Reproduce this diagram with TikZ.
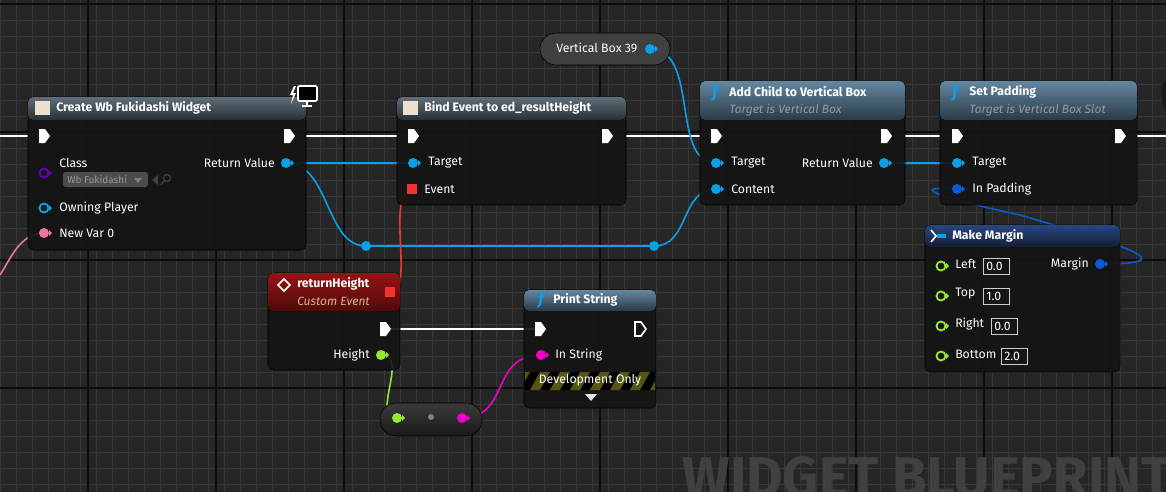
\documentclass[tikz,border=0pt]{standalone}
\usepackage{fontspec}
\setmainfont{Fira Sans}
\begin{document}
\begin{tikzpicture}[x=0.75pt,y=-0.75pt,font=\fontsize{9.2}{10}\selectfont,
  body/.style={fill=black!92!white,fill opacity=0.92,draw=black,rounded corners=4pt},
  fhead/.style={top color=hdtop,bottom color=hdbot,draw=none},
  txt/.style={text=white,inner sep=0pt,anchor=west},
  hd/.style={txt,font=\fontsize{9.2}{10}\selectfont\bfseries},
  sub/.style={text=gray!80!white,inner sep=0pt,anchor=west,font=\fontsize{9}{10}\selectfont\itshape},
  wire/.style={line width=1.2pt},
  bluew/.style={wire,draw=pinblue},
  execw/.style={line width=2pt,white}]
\definecolor{pinblue}{RGB}{10,160,230}
\definecolor{pindblue}{RGB}{10,90,210}
\definecolor{pingreen}{RGB}{150,230,50}
\definecolor{pinmag}{RGB}{240,0,200}
\definecolor{pinpink}{RGB}{230,120,160}
\definecolor{pinred}{RGB}{240,50,50}
\definecolor{pinpurple}{RGB}{100,0,180}
\definecolor{hdtop}{RGB}{100,135,160}
\definecolor{hdbot}{RGB}{40,58,72}
\definecolor{gtop}{RGB}{95,110,120}
\definecolor{gbot}{RGB}{40,48,55}
\definecolor{mtop}{RGB}{40,70,130}
\definecolor{mbot}{RGB}{20,30,50}
\definecolor{rtop}{RGB}{150,20,20}
\definecolor{rbot}{RGB}{80,10,10}
\definecolor{olive}{RGB}{85,85,20}
\newcommand\execpin[3][white]{\fill[#1] (#2-5,#3-7)--(#2+1,#3-7)--(#2+6,#3)--(#2+1,#3+7)--(#2-5,#3+7)--cycle;}
\newcommand\hexecpin[2]{\draw[white,line width=1.2pt] (#1-5,#2-7)--(#1+1,#2-7)--(#1+6,#2)--(#1+1,#2+7)--(#1-5,#2+7)--cycle;}
\newcommand\dpin[3]{\fill[#1] (#2,#3) circle (5); \fill[#1] (#2+5,#3-3)--(#2+8,#3)--(#2+5,#3+3)--cycle;}
\newcommand\hpin[3]{\draw[#1,line width=1.4pt] (#2,#3) circle (4.5); \fill[#1] (#2+5,#3-3)--(#2+8,#3)--(#2+5,#3+3)--cycle;}
% background
\fill[black!85!white] (0,0) rectangle (1166,492);
\useasboundingbox (0,0) rectangle (1166,492);
\foreach \x in {0,16,...,1166} \draw[black!78!white,line width=0.5pt] (\x,0)--(\x,492);
\foreach \y in {4,20,...,492} \draw[black!78!white,line width=0.5pt] (0,\y)--(1166,\y);
\foreach \x in {88,216,...,1166} \draw[black!95!white,line width=0.8pt] (\x,0)--(\x,492);
\foreach \y in {4,132,...,492} \draw[black!95!white,line width=0.8pt] (0,\y)--(1166,\y);
\node[text=gray!50!black,font=\fontsize{42}{44}\selectfont\bfseries,inner sep=0pt,anchor=base east] (wm) at (1172,496) {WIDGET BLUEPRINT};

% pin coordinates
\coordinate (cRet) at (286,163); \coordinate (bTgt) at (413,163);
\coordinate (bEvt) at (412,189); \coordinate (rDel) at (391,292);
\coordinate (vbox) at (650,49); \coordinate (aTgt) at (716,163);
\coordinate (aCnt) at (716,189); \coordinate (aRet) at (884,163);
\coordinate (sTgt) at (957,163); \coordinate (sPad) at (957,189);
\coordinate (mMar) at (1100,264); \coordinate (rH) at (381,355);
\coordinate (kL) at (397,418); \coordinate (kR) at (462,418);
\coordinate (pIn) at (541,355); \coordinate (nv) at (44,233);
\coordinate (r1) at (366,246); \coordinate (r2) at (654,246);
\coordinate (rEx) at (385,329); \coordinate (pEx) at (540,329);

% exec wires
\draw[execw] (0,136)--(28,136) (306,136)--(397,136) (626,136)--(700,136) (905,136)--(940,136) (1137,136)--(1166,136);
\draw[execw] (rEx)--(pEx);
% wires
\draw[bluew] (cRet)--(bTgt);
\draw[bluew] (cRet) .. controls (330,163) and (325,246) .. (r1) -- (r2) .. controls (690,246) and (680,189) .. (aCnt);
\draw[bluew] (vbox) .. controls (700,49) and (670,163) .. (aTgt);
\draw[bluew] (aRet)--(sTgt);
\draw[wire,pindblue] (mMar) .. controls (1180,264) and (1140,250) .. (1020,215) .. controls (950,200) and (900,185) .. (sPad);
\draw[wire,pinred] (bEvt) .. controls (385,195) and (415,290) .. (rDel);
\draw[wire,pingreen] (rH) .. controls (410,355) and (370,418) .. (kL);
\draw[wire,pinmag] (kR) .. controls (510,418) and (490,355) .. (pIn);
\draw[wire,pinpink] (nv) .. controls (20,233) and (10,260) .. (0,275);
\fill[pinblue] (r1) circle (5) (r2) circle (5);

% Create widget
\path[body] (28,97) rectangle (306,250);
\fill[top color=gtop,bottom color=gbot,rounded corners=4pt] (28,97) rectangle (306,120);
\fill[white!75!brown] (35,101) rectangle (50,115);
\node[hd] (cT) at (56,108) {Create Wb Fukidashi Widget};
\draw[white,fill=black,line width=1.2pt,rounded corners=1pt] (298,86) rectangle (317,101);
\draw[white,line width=1.2pt] (307,101)--(307,105) (302,106)--(312,106);
\fill[white] (294,86)--(290,95)--(293,95)--(291,104)--(296,93)--(293,93)--(296,86)--cycle;
\execpin{44}{136}\execpin{289}{136}
\hpin{pinpurple}{44}{173}\node[txt] (cc) at (59,163) {Class};
\fill[black!70!white,rounded corners=2pt] (63,172) rectangle (148,187);
\node[txt,text=gray!80!white,font=\fontsize{7.5}{8}\selectfont] (cd) at (67,180) {Wb Fukidashi};
\fill[gray] (134,178)--(142,178)--(138,183)--cycle;
\fill[gray!50!black] (152,180)--(158,175)--(158,185)--cycle;
\draw[gray!50!black,line width=1pt] (167,178) circle (3.5) (164,181)--(161,185);
\node[txt,anchor=east] (cr) at (275,163) {Return Value};\dpin{pinblue}{286}{163}
\hpin{pinblue}{44}{208}\node[txt] (co) at (59,208) {Owning Player};
\dpin{pinpink}{44}{233}\node[txt] (cn) at (59,233) {New Var 0};

% Bind
\path[body] (397,97) rectangle (626,205);
\fill[top color=gtop,bottom color=gbot,rounded corners=4pt] (397,97) rectangle (626,120);
\fill[white!75!brown] (403,101) rectangle (418,115);
\node[hd] (bT) at (424,108) {Bind Event to ed\_resultHeight};
\execpin{413}{136}\execpin{607}{136}
\dpin{pinblue}{413}{163}\node[txt] (bt) at (428,163) {Target};
\fill[pinred] (407,184) rectangle (417,194);\node[txt] (be) at (424,189) {Event};

% Vertical Box 39
\draw[black,fill=black!75!white,rounded corners=12pt] (540,33) rectangle (670,65);
\node[txt] (vb) at (556,48) {Vertical Box 39};\dpin{pinblue}{650}{49}

% Add Child
\path[body] (700,81) rectangle (905,205);
\fill[fhead,rounded corners=4pt] (700,81) rectangle (905,120);
\node[txt,text=pinblue,font=\fontsize{12}{12}\selectfont\itshape\bfseries] (af) at (712,93) {f};
\node[hd] (aT) at (729,92) {Add Child to Vertical Box};
\node[sub] (as) at (729,110) {Target is Vertical Box};
\execpin{716}{136}\execpin{886}{136}
\dpin{pinblue}{716}{163}\node[txt] (at) at (731,163) {Target};
\dpin{pinblue}{716}{189}\node[txt] (ac) at (731,189) {Content};
\node[txt,anchor=east] (ar) at (873,163) {Return Value};\dpin{pinblue}{884}{163}

% Set Padding
\path[body] (940,81) rectangle (1137,205);
\fill[fhead,rounded corners=4pt] (940,81) rectangle (1137,120);
\node[txt,text=pinblue,font=\fontsize{12}{12}\selectfont\itshape\bfseries] (sf) at (952,93) {f};
\node[hd] (sT) at (969,92) {Set Padding};
\node[sub] (ss) at (969,110) {Target is Vertical Box Slot};
\execpin{957}{136}\execpin{1120}{136}
\dpin{pinblue}{957}{163}\node[txt] (st) at (972,163) {Target};
\dpin{pindblue}{957}{189}\node[txt] (sp) at (972,189) {In Padding};
\fill[black!90!white,rounded corners=6pt] (1162,80) rectangle (1180,110);

% Make Margin
\path[body] (925,225) rectangle (1120,372);
\fill[top color=mtop,bottom color=mbot,rounded corners=4pt] (925,225) rectangle (1120,247);
\draw[white,line width=1.2pt] (931,230)--(936,236)--(931,242);
\fill[pinblue] (937,234) rectangle (946,238);
\node[hd] (mT) at (952,236) {Make Margin};
\foreach \yy/\lab/\val/\bx in {266/Left/0.0/983,296/Top/1.0/983,326/Right/0.0/991,356/Bottom/2.0/1001}{
  \hpin{pingreen}{941}{\yy}
  \node[txt] at (955,\yy-2) {\lab};
  \draw[white!80!black] (\bx,\yy-8) rectangle (\bx+26,\yy+8);
  \node[txt] at (\bx+3,\yy) {\val};
}
\node[txt,anchor=east] (mm) at (1089,264) {Margin};\dpin{pindblue}{1100}{264}

% returnHeight
\path[body] (268,273) rectangle (400,370);
\fill[top color=rtop,bottom color=rbot,rounded corners=4pt] (268,273) rectangle (400,311);
\draw[white,line width=1.2pt] (278,285)--(284,279)--(290,285)--(284,291)--cycle;
\node[hd] (rT) at (297,284) {returnHeight};
\node[sub,text=brown!60!white] (rs) at (297,301) {Custom Event};
\fill[pinred] (385,287) rectangle (395,297);
\execpin{385}{329}
\node[txt,anchor=east] (rh) at (370,355) {Height};\dpin{pingreen}{381}{355}

% Print String
\path[body] (524,290) rectangle (656,408);
\fill[fhead,rounded corners=4pt] (524,290) rectangle (656,311);
\node[txt,text=pinblue,font=\fontsize{12}{12}\selectfont\itshape\bfseries] (pf) at (538,300) {f};
\node[hd] (pT) at (553,300) {Print String};
\execpin{540}{329}\hexecpin{640}{329}
\dpin{pinmag}{541}{355}\node[txt] (ps) at (555,355) {In String};
\begin{scope}
\clip (525,372) rectangle (655,390);
\fill[black] (525,372) rectangle (655,390);
\foreach \x in {510,530,...,670} \fill[olive] (\x,390)--(\x+10,372)--(\x+20,372)--(\x+10,390)--cycle;
\end{scope}
\node[txt,anchor=center] (pd) at (590,380) {Development Only};
\fill[white!90!black] (585,394)--(597,394)--(591,401)--cycle;

% knot
\draw[black,top color=gray!45!black,bottom color=black!90,rounded corners=12pt] (380,403) rectangle (482,436);
\dpin{pingreen}{397}{418}\fill[gray] (431,417) circle (3);\dpin{pinmag}{462}{418}
\end{tikzpicture}
\end{document}
